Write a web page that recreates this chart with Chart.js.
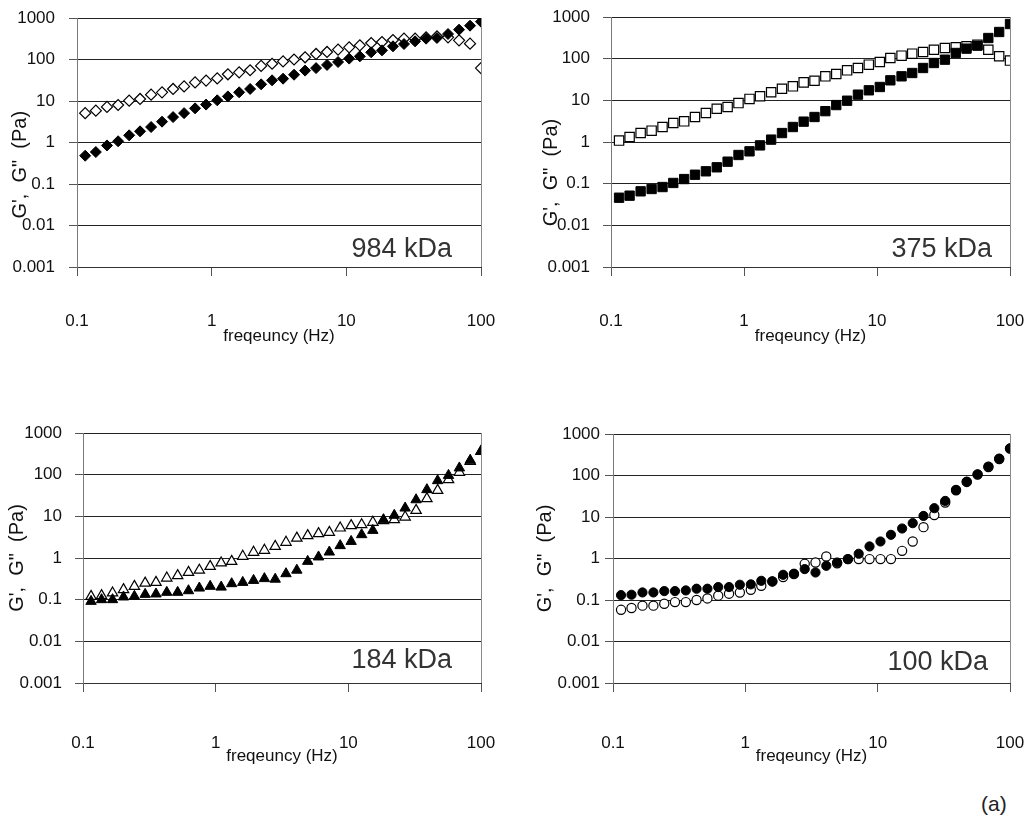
<!DOCTYPE html>
<html><head><meta charset="utf-8">
<script src="https://cdn.jsdelivr.net/npm/chart.js@4.4.1/dist/chart.umd.min.js"></script>
<style>
html,body{margin:0;padding:0;background:#fff;}
body{width:1033px;height:823px;position:relative;overflow:hidden;}
canvas{position:absolute;}
#tag{position:absolute;left:981px;top:792px;font:21px "Liberation Sans",Arial,sans-serif;color:#222;line-height:24px;}
</style></head><body>
<canvas id="c1" width="516" height="360" style="left:0px;top:0px"></canvas>
<canvas id="c2" width="513" height="360" style="left:520px;top:0px"></canvas>
<canvas id="c3" width="516" height="370" style="left:0px;top:416px"></canvas>
<canvas id="c4" width="513" height="370" style="left:520px;top:416px"></canvas>
<div id="tag">(a)</div>
<script>
// ---- data ----
const freq = [0.115, 0.138, 0.167, 0.202, 0.244, 0.294, 0.355, 0.428, 0.517, 0.624, 0.753, 0.909,
  1.10, 1.32, 1.60, 1.93, 2.33, 2.81, 3.39, 4.09, 4.94, 5.96, 7.19, 8.68,
  10.5, 12.6, 15.3, 18.4, 22.2, 26.8, 32.4, 39.1, 47.1, 56.9, 68.7, 82.9, 100];

const g984Storage = [0.48,0.59,0.85,1.07,1.49,1.86,2.36,3.18,4.1,5.1,6.65,8.2,10.4,12.9,16.2,19.5,25.2,31.5,34.5,43,54,62,74,87,105,119,149,166,208,236,274,318,330,411,524,653,816];
const g984Loss    = [5.1,5.85,7.2,8.0,10.2,11.2,14.2,16.2,19.5,22.5,28,31,35,44,49,55,70,79,90,100,113,136,152,173,196,219,250,264,295,318,318,342,361,342,290,241,62];

const g375Storage = [0.046,0.0515,0.0655,0.0745,0.083,0.104,0.129,0.164,0.198,0.247,0.337,0.488,0.597,0.83,1.14,1.64,2.29,3.08,3.98,5.5,7.7,9.8,13.7,17.4,20.9,30.2,37.7,45.3,59.7,78.7,94.6,137,174,205,313,437,679];
const g375Loss    = [1.08,1.32,1.64,1.87,2.29,2.86,3.13,3.98,4.97,6.3,6.9,8.6,10.8,12.5,15.6,19,21.7,27,29.6,37.7,42.9,52.5,59.7,71.8,83,104,118,132,145,164,180,187,198,217,164,114,90];

const g184Storage = [0.091,0.1,0.1,0.116,0.12,0.134,0.137,0.15,0.15,0.164,0.19,0.209,0.2,0.242,0.26,0.29,0.32,0.31,0.42,0.51,0.83,1.06,1.39,1.98,2.5,3.63,4.6,8.3,10.6,15.8,25,43.7,71.8,96,145,221,363];
const g184Loss    = [0.12,0.125,0.145,0.174,0.209,0.25,0.26,0.33,0.377,0.453,0.51,0.63,0.76,0.83,1.1,1.37,1.53,1.9,2.38,3.0,3.44,3.84,4.13,5.25,5.97,6.3,7.2,7.9,8.3,9.6,13.9,26.5,42,76,114,209,363];

const g100Storage = [0.131,0.134,0.152,0.152,0.164,0.164,0.17,0.187,0.187,0.205,0.205,0.233,0.238,0.29,0.28,0.405,0.43,0.555,0.46,0.667,0.80,0.966,1.3,1.95,2.57,3.72,5.28,7.1,10.6,16.3,24.4,45,71,107,164,255,452];
const g100Loss    = [0.058,0.064,0.073,0.073,0.081,0.089,0.089,0.1,0.109,0.127,0.142,0.152,0.177,0.22,0.28,0.356,0.42,0.745,0.80,1.12,0.77,0.966,0.966,0.966,0.966,0.966,1.53,2.57,5.7,11.2,22.3,44,70,105,160,250,445];

const xTickValues = [0.1, 1, 10, 100];
const xTickLabels = ['0.1', '1', '10', '100'];
const yTickValues = [0.001, 0.01, 0.1, 1, 10, 100, 1000];
const yTickLabels = ['0.001', '0.01', '0.1', '1', '10', '100', '1000'];
const xTitle = 'freqeuncy (Hz)';
const yTitle = 'G\',  G"  (Pa)';
const panelLabels = ['984 kDa', '375 kDa', '184 kDa', '100 kDa'];

// ---- layout / style ----
const fontFam = '"Liberation Sans",Arial,sans-serif';

const panels = [
  {id:'c1', text:panelLabels[0], storage:g984Storage, loss:g984Loss, style:'rectRot', r:5.5,
   yWidth:77, yTickPad:14, yTitlePad:8, shift:8, pad:{left:0, top:18, right:35, bottom:13}, xH:80, xPad:35, dx:29, dy:10},
  {id:'c2', text:panelLabels[1], storage:g375Storage, loss:g375Loss, style:'rect', r:6.6,
   yWidth:91, yTickPad:13, yTitlePad:19, shift:11, pad:{left:0, top:17, right:23, bottom:13}, xH:80, xPad:35, dx:18, dy:10},
  {id:'c3', text:panelLabels[2], storage:g184Storage, loss:g184Loss, style:'triangle', r:6,
   yWidth:83, yTickPad:13, yTitlePad:5, shift:0, pad:{left:0, top:17, right:35, bottom:19}, xH:84, xPad:41, dx:29, dy:15},
  {id:'c4', text:panelLabels[3], storage:g100Storage, loss:g100Loss, style:'circle', r:4.6,
   yWidth:93, yTickPad:5, yTitlePad:13, shift:0, pad:{left:0, top:18, right:23, bottom:19}, xH:84, xPad:41, dx:22, dy:13}
];

const kdaPlugin = {
  id: 'kda',
  afterDatasetsDraw(chart, args, opts) {
    const {ctx, chartArea} = chart;
    ctx.save();
    ctx.font = '27px ' + fontFam;
    ctx.fillStyle = '#333';
    ctx.textAlign = 'right';
    ctx.textBaseline = 'alphabetic';
    ctx.fillText(opts.text, chartArea.right - opts.dx, chartArea.bottom - opts.dy);
    ctx.restore();
  }
};

panels.forEach(p => {
  new Chart(document.getElementById(p.id), {
    type: 'scatter',
    data: {
      datasets: [
        {label: "G'", data: freq.map((f, i) => ({x: f, y: p.storage[i]})), showLine: false,
         pointStyle: p.style, pointRadius: p.r, pointHoverRadius: p.r,
         backgroundColor: '#000', borderColor: '#000', borderWidth: 1},
        {label: 'G"', data: freq.map((f, i) => ({x: f, y: p.loss[i]})), showLine: false,
         pointStyle: p.style, pointRadius: p.r, pointHoverRadius: p.r,
         backgroundColor: '#fff', borderColor: '#000', borderWidth: 1.2}
      ]
    },
    options: {
      responsive: false, animation: false, devicePixelRatio: 1,
      layout: {padding: p.pad},
      plugins: {legend: {display: false}, tooltip: {enabled: false}, kda: {text: p.text, dx: p.dx, dy: p.dy}},
      scales: {
        x: {
          type: 'logarithmic', min: 0.1, max: 100,
          afterBuildTicks: s => { s.ticks = xTickValues.map(v => ({value: v})); },
          afterFit: s => { s.height = p.xH; s.paddingLeft = 0; s.paddingRight = 0; },
          ticks: {autoSkip: false, maxRotation: 0, minRotation: 0, padding: p.xPad, color: '#111',
                  font: {family: fontFam, size: 17}, callback: (v, i) => xTickLabels[i]},
          grid: {drawOnChartArea: true, color: c => (c.tick && c.tick.value === 100) ? '#8a8a8a' : 'rgba(0,0,0,0)',
                 tickColor: '#555', tickLength: 9, lineWidth: 1},
          border: {display: true, color: '#333', width: 1},
          title: {display: true, text: xTitle, color: '#111', font: {family: fontFam, size: 17}, padding: {top: 0, bottom: 0}}
        },
        y: {
          type: 'logarithmic', min: 0.001, max: 1000,
          afterBuildTicks: s => { s.ticks = yTickValues.map(v => ({value: v})); },
          afterFit: s => { s.width = p.yWidth; s.paddingTop = 0; s.paddingBottom = 0; },
          ticks: {autoSkip: false, padding: p.yTickPad, color: '#111',
                  font: {family: fontFam, size: 17}, callback: (v, i) => yTickLabels[i]},
          grid: {color: '#222', tickColor: '#555', tickLength: 8, lineWidth: 1},
          border: {display: true, color: '#7a7a7a', width: 1},
          title: {display: true, text: yTitle + ' '.repeat(p.shift), color: '#111',
                  font: {family: fontFam, size: 20}, padding: {top: p.yTitlePad, bottom: 0}}
        }
      }
    },
    plugins: [kdaPlugin]
  });
});
</script>
</body></html>
